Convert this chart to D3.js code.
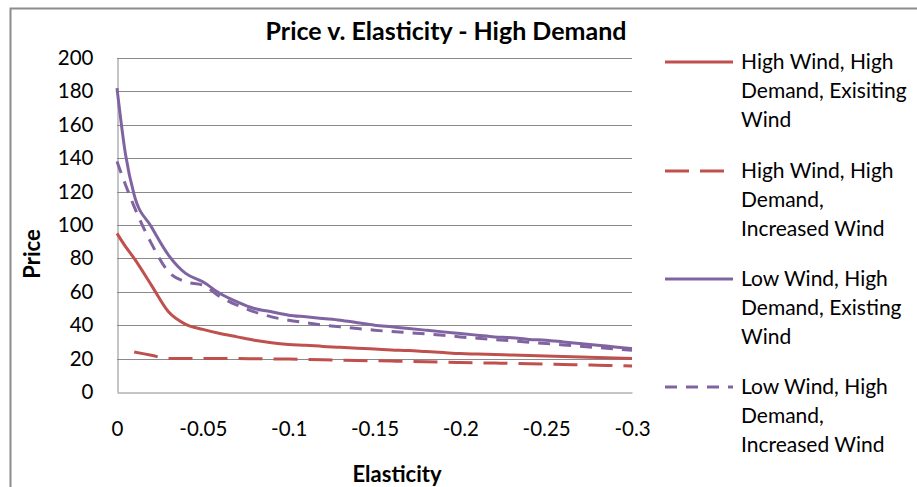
<!DOCTYPE html>
<html>
<head>
<meta charset="utf-8">
<script src="https://cdn.jsdelivr.net/npm/d3@7"></script>
<style>
  html, body { margin: 0; padding: 0; background: #fff; }
  svg { display: block; font-family: Lato, "Open Sans", sans-serif; }
</style>
</head>
<body>
<svg id="chart" width="917" height="487"></svg>
<script>
// Elasticity steps shared by every series
const elasticity = [0, -0.005, -0.01, -0.02, -0.03, -0.04, -0.05, -0.06, -0.07, -0.08, -0.09, -0.1,
  -0.11, -0.12, -0.13, -0.14, -0.15, -0.16, -0.17, -0.18, -0.19, -0.2,
  -0.21, -0.22, -0.23, -0.24, -0.25, -0.26, -0.27, -0.28, -0.29, -0.3];

const highWindExisting = [95, 87, 80, 64, 48, 40.5, 37.5, 35, 33, 31, 29.5, 28.5,
  28, 27.3, 26.8, 26.2, 25.7, 25.2, 24.8, 24.2, 23.6, 23,
  22.7, 22.4, 22.1, 21.8, 21.5, 21.2, 20.9, 20.6, 20.3, 20];

const highWindIncreased = [null, null, 24, 22, 20, 20, 20, 20, 20, 19.9, 19.8, 19.7,
  19.5, 19.3, 19.1, 18.9, 18.7, 18.5, 18.3, 18.1, 17.9, 17.7,
  17.5, 17.3, 17.1, 16.9, 16.7, 16.5, 16.3, 16, 15.8, 15.5];

const lowWindExisting = [182, 142, 118, 99, 82, 71, 66, 59, 54, 50, 48, 46,
  45, 44, 43, 41.5, 40, 39, 38, 37, 36, 35,
  34, 33, 32.5, 31.5, 31, 30, 29, 28, 27, 26];

const lowWindIncreased = [138, 124, 111, 89, 72, 66, 64, 57, 52, 48, 45, 43,
  41.5, 40, 39, 38, 37, 36.2, 35.5, 34.8, 34, 33,
  32.2, 31.4, 30.6, 29.8, 29, 28.2, 27.4, 26.6, 25.8, 25];

const seriesNames = [
  ["High Wind, High", "Demand, Exisiting", "Wind"],
  ["High Wind, High", "Demand,", "Increased Wind"],
  ["Low Wind, High", "Demand, Existing", "Wind"],
  ["Low Wind, High", "Demand,", "Increased Wind"]
];
const seriesValues = [highWindExisting, highWindIncreased, lowWindExisting, lowWindIncreased];
const seriesColors = ["#C0504D", "#C0504D", "#8064A2", "#8064A2"];
const seriesDash = [null, "24,11", null, "12,9"];

const xTicks = [0, -0.05, -0.1, -0.15, -0.2, -0.25, -0.3];
const yTicks = [0, 20, 40, 60, 80, 100, 120, 140, 160, 180, 200];

const svg = d3.select("#chart");
const plot = { left: 117, right: 632, top: 58, bottom: 392 };

// outer chart frame
svg.append("rect")
  .attr("x", 10.5).attr("y", 8.5)
  .attr("width", 1000).attr("height", 1000)
  .attr("fill", "#fff").attr("stroke", "#8c8c8c").attr("stroke-width", 2);

const x = d3.scaleLinear().domain([0, -0.3]).range([plot.left, plot.right]);
const y = d3.scaleLinear().domain([0, 200]).range([plot.bottom, plot.top]);

// horizontal gridlines
svg.append("g")
  .selectAll("line")
  .data(yTicks.filter(d => d > 0))
  .join("line")
  .attr("x1", plot.left).attr("x2", plot.right)
  .attr("y1", d => Math.round(y(d)) + 0.5).attr("y2", d => Math.round(y(d)) + 0.5)
  .attr("stroke", "#8a8a8a").attr("stroke-width", 1);

// y axis
const yAxis = svg.append("g")
  .attr("transform", `translate(${plot.left + 0.5},0)`)
  .call(d3.axisLeft(y).tickValues(yTicks).tickSize(0).tickPadding(24).tickFormat(d3.format("d")));
yAxis.select(".domain").attr("stroke", "#8a8a8a");
yAxis.selectAll("text").attr("font-size", 20.5).attr("fill", "#000")
  .attr("font-family", "Lato, sans-serif");

// x axis
const xAxis = svg.append("g")
  .attr("transform", `translate(0,${Math.round(plot.bottom) + 0.5})`)
  .call(d3.axisBottom(x).tickValues(xTicks).tickSize(0).tickPadding(29).tickFormat(d => d === 0 ? "0" : String(d)));
xAxis.select(".domain").attr("stroke", "#8a8a8a");
xAxis.selectAll("text").attr("font-size", 20.5).attr("fill", "#000")
  .attr("font-family", "Lato, sans-serif");

// series lines
const line = d3.line()
  .defined(d => d[1] !== null)
  .x(d => x(d[0]))
  .y(d => y(d[1]))
  .curve(d3.curveMonotoneX);

seriesValues.forEach((vals, i) => {
  const pts = elasticity.map((e, j) => [e, vals[j]]);
  svg.append("path")
    .datum(pts)
    .attr("d", line)
    .attr("fill", "none")
    .attr("stroke", seriesColors[i])
    .attr("stroke-width", 3)
    .attr("stroke-dasharray", seriesDash[i])
    .attr("stroke-linejoin", "round");
});

// title and axis titles
svg.append("text")
  .attr("x", 446).attr("y", 40)
  .attr("text-anchor", "middle")
  .attr("font-size", 25).attr("font-weight", "bold")
  .text("Price v. Elasticity - High Demand");

svg.append("text")
  .attr("transform", "translate(40,254) rotate(-90)")
  .attr("text-anchor", "middle")
  .attr("font-size", 22).attr("font-weight", "bold")
  .text("Price");

svg.append("text")
  .attr("x", 397).attr("y", 482)
  .attr("text-anchor", "middle")
  .attr("font-size", 22).attr("font-weight", "bold")
  .text("Elasticity");

// legend
const legendY = [62, 171, 279, 387];
const leg = svg.append("g");
seriesNames.forEach((lines, i) => {
  leg.append("line")
    .attr("x1", 665).attr("x2", 733)
    .attr("y1", legendY[i]).attr("y2", legendY[i])
    .attr("stroke", seriesColors[i]).attr("stroke-width", 3)
    .attr("stroke-dasharray", seriesDash[i]);
  lines.forEach((t, k) => {
    leg.append("text")
      .attr("x", 741).attr("y", legendY[i] + k * 29 + 7)
      .attr("font-size", 21)
      .text(t);
  });
});
</script>
</body>
</html>
